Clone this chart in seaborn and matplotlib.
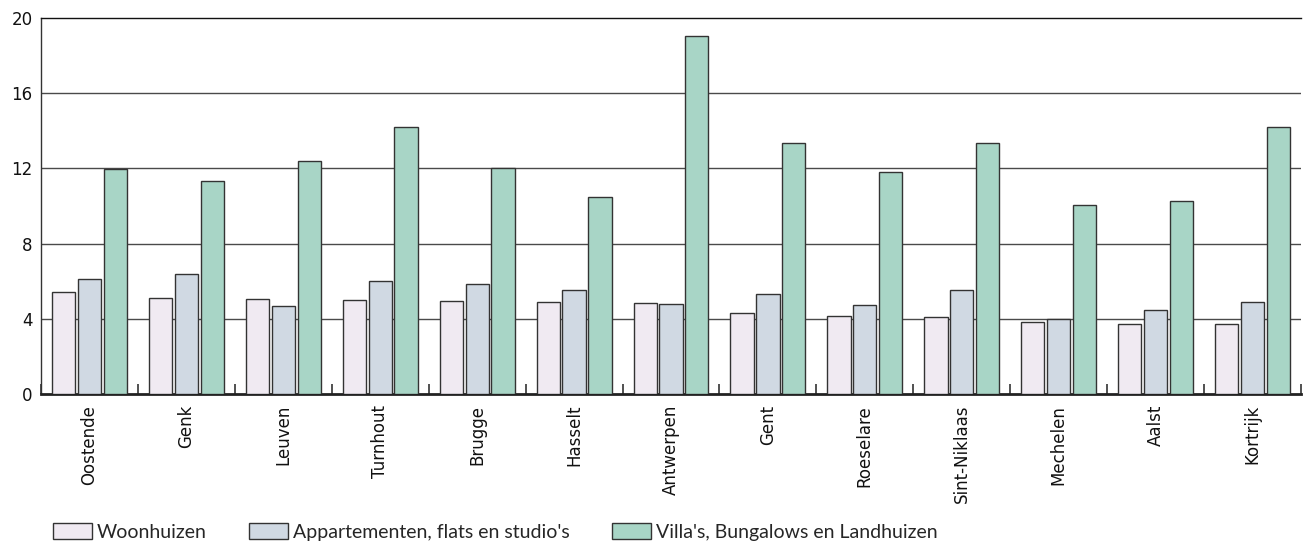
import numpy as np
import pandas as pd
import matplotlib
matplotlib.use("Agg")
import matplotlib.pyplot as plt
from matplotlib.ticker import FixedLocator
import seaborn as sns

# city names as on the x axis
cities = ["Oostende", "Genk", "Leuven", "Turnhout", "Brugge", "Hasselt",
          "Antwerpen", "Gent", "Roeselare", "Sint-Niklaas", "Mechelen",
          "Aalst", "Kortrijk"]

# series
woonhuizen = [5.40, 5.12, 5.05, 4.98, 4.94, 4.90, 4.83, 4.32, 4.12, 4.10, 3.80, 3.73, 3.70]
appartementen = [6.11, 6.36, 4.66, 5.99, 5.86, 5.54, 4.76, 5.33, 4.74, 5.52, 4.00, 4.48, 4.87]
villas = [11.99, 11.35, 12.40, 14.19, 12.01, 10.46, 19.04, 13.34, 11.83, 13.34, 10.07, 10.27, 14.19]

series_names = ["Woonhuizen", "Appartementen, flats en studio's",
                "Villa's, Bungalows en Landhuizen"]
colors = ["#f0eaf2", "#d0d9e3", "#a8d5c6"]
y_ticks = [0, 4, 8, 12, 16, 20]

# long form table for seaborn
df = pd.DataFrame({
    "stad": cities * 3,
    "type": [series_names[0]] * 13 + [series_names[1]] * 13 + [series_names[2]] * 13,
    "waarde": woonhuizen + appartementen + villas,
})

sns.set_style("white")
plt.rcParams["font.family"] = ["DejaVu Sans"]

fig = plt.figure(figsize=(13.04, 5.43), dpi=100)
ax = fig.add_axes([41 / 1304, 1 - 393.7 / 543, 1260 / 1304, 375.4 / 543])

sns.barplot(data=df, x="stad", y="waarde", hue="type", order=cities,
            hue_order=series_names, palette=colors, saturation=1, width=0.8, gap=0.1,
            edgecolor="#333333", linewidth=1.0, ax=ax, zorder=3)

ax.set_xlim(-0.5, len(cities) - 0.5)
ax.set_ylim(0, 20)
ax.set_yticks(y_ticks)
ax.set_xlabel("")
ax.set_ylabel("")

# horizontal grid lines (20 drawn as top spine)
for v in y_ticks[1:-1]:
    ax.axhline(v, color="#4a4a4a", lw=1.0, zorder=1)

ax.spines["right"].set_visible(False)
ax.spines["top"].set_color("#111111")
ax.spines["top"].set_linewidth(1.0)
ax.spines["left"].set_color("#333333")
ax.spines["left"].set_linewidth(1.0)
ax.spines["bottom"].set_color("#222222")
ax.spines["bottom"].set_linewidth(2.0)

# tick marks between the groups
ax.xaxis.set_minor_locator(FixedLocator(np.arange(-0.5, len(cities), 1.0)))
ax.tick_params(axis="x", which="minor", direction="in", length=7, width=1.2,
               color="#333333", bottom=True)
ax.tick_params(axis="x", which="major", length=0, pad=8)
ax.tick_params(axis="y", length=0, pad=6, labelsize=12, labelcolor="#111111")
plt.setp(ax.get_xticklabels(), rotation=90, fontsize=12, va="top", ha="center",
         color="#111111")

handles, labels = ax.get_legend_handles_labels()
ax.get_legend().remove()
leg = fig.legend(handles, labels, loc="lower left", bbox_to_anchor=(0.039, 0.0),
                 ncol=3, frameon=False, handlelength=2.0, handleheight=0.9,
                 handletextpad=0.25, columnspacing=2.2, borderpad=0.1,
                 borderaxespad=0.0,
                 prop={"family": ["Lato", "DejaVu Sans"], "size": 14})

fig.savefig("out.png", dpi=100)
